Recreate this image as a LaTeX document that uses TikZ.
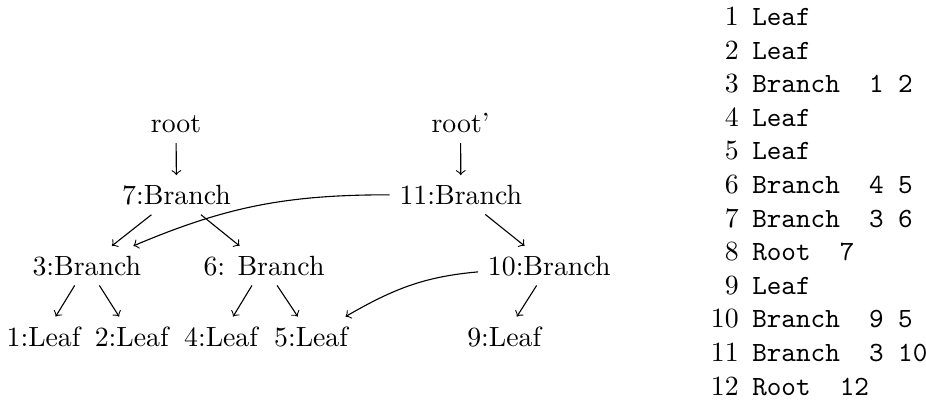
\documentclass[tikz,border=0pt]{standalone}
\begin{document}
\begin{tikzpicture}[x=0.3597pt,y=-0.3597pt,
  tn/.style={anchor=base},
  ln/.style={anchor=base east,inner sep=0pt},
  cn/.style={anchor=base west,inner sep=0pt,font=\ttfamily},
  arr/.style={->}]
\useasboundingbox (0,0) rectangle (926,406);
% tree nodes
\node[tn] (r)   at (176,133)   {root};
\node[tn] (rp)  at (460.6,133) {root'};
\node[tn] (n7)  at (176.5,204.3) {7:Branch};
\node[tn] (n11) at (460.8,204.3) {11:Branch};
\node[tn] (n3)  at (86.8,275)  {3:Branch};
\node[tn] (n6)  at (264,275)   {6: Branch};
\node[tn] (n10) at (549.2,275) {10:Branch};
\node[tn] (n1)  at (43.5,346)  {1:Leaf};
\node[tn] (n2)  at (131.7,346) {2:Leaf};
\node[tn] (n4)  at (221,346)   {4:Leaf};
\node[tn] (n5)  at (311,346)   {5:Leaf};
\node[tn] (n9)  at (504.2,346) {9:Leaf};
% edges
\draw[arr] (r) -- (n7);
\draw[arr] (rp) -- (n11);
\draw[arr] (n7) -- (n3);
\draw[arr] (n7) -- (n6);
\draw[arr] (n11) -- (n10);
\draw[arr] (n3) -- (n1);
\draw[arr] (n3) -- (n2);
\draw[arr] (n6) -- (n4);
\draw[arr] (n6) -- (n5);
\draw[arr] (n10) -- (n9);
\draw[arr] (n11.west) to[out=180,in=23] (n3);
\draw[arr] (n10) to[out=185,in=30] (n5);
% listing
\node[ln] (k1)  at (739.3,25.5)  {1};
\node[ln] (k2)  at (739.3,59.1)  {2};
\node[ln] (k3)  at (739.3,92.7)  {3};
\node[ln] (k4)  at (739.3,126.3) {4};
\node[ln] (k5)  at (739.3,159.9) {5};
\node[ln] (k6)  at (739.3,193.5) {6};
\node[ln] (k7)  at (739.3,227.1) {7};
\node[ln] (k8)  at (739.3,260.7) {8};
\node[ln] (k9)  at (739.3,294.3) {9};
\node[ln] (k10) at (739.3,327.9) {10};
\node[ln] (k11) at (739.3,361.5) {11};
\node[ln] (k12) at (739.3,395.1) {12};
\node[cn] (c1)  at (751.7,25.5)  {Leaf};
\node[cn] (c2)  at (751.7,59.1)  {Leaf};
\node[cn] (c3)  at (751.7,92.7)  {Branch\ \ 1\ 2};
\node[cn] (c4)  at (751.7,126.3) {Leaf};
\node[cn] (c5)  at (751.7,159.9) {Leaf};
\node[cn] (c6)  at (751.7,193.5) {Branch\ \ 4\ 5};
\node[cn] (c7)  at (751.7,227.1) {Branch\ \ 3\ 6};
\node[cn] (c8)  at (751.7,260.7) {Root\ \ 7};
\node[cn] (c9)  at (751.7,294.3) {Leaf};
\node[cn] (c10) at (751.7,327.9) {Branch\ \ 9\ 5};
\node[cn] (c11) at (751.7,361.5) {Branch\ \ 3\ 10};
\node[cn] (c12) at (751.7,395.1) {Root\ \ 12};
\end{tikzpicture}
\end{document}
